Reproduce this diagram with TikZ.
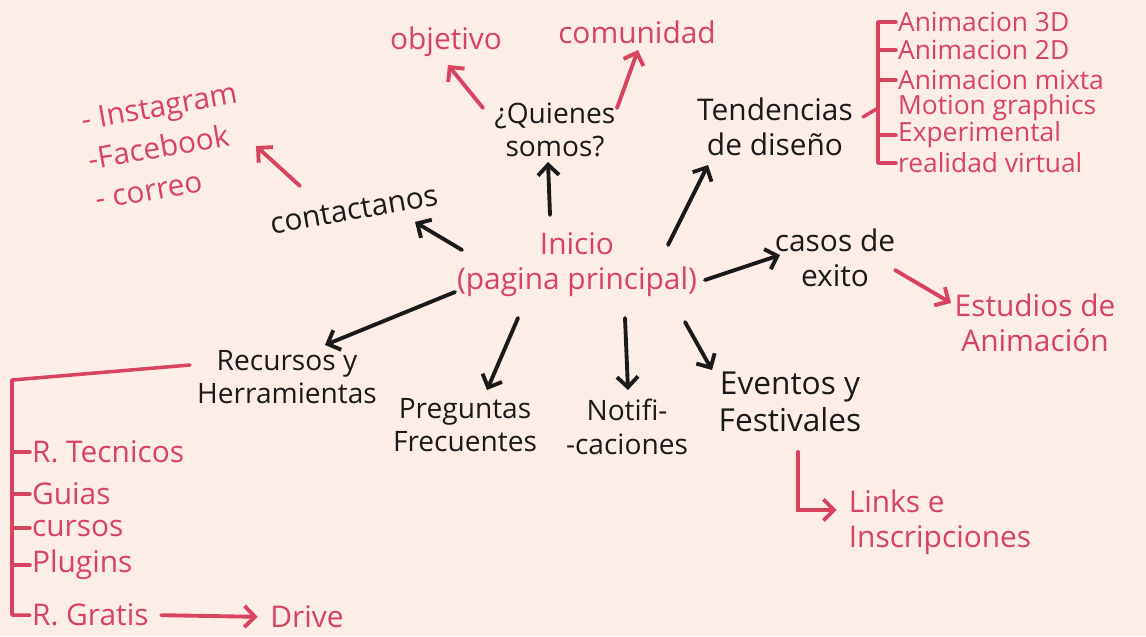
\documentclass[tikz,border=0pt]{standalone}
\usepackage{fontspec}
\setmainfont{Open Sans}
\usetikzlibrary{arrows.meta}
\definecolor{fondo}{HTML}{FDEDE7}
\definecolor{rojo}{HTML}{D8435F}
\definecolor{tinta}{HTML}{1A1A1A}

\tikzset{
  negro/.style={text=tinta, font=\fontsize{16}{19}\selectfont, align=center, inner sep=1pt},
  grande/.style={font=\fontsize{17}{20}\selectfont},
  rosa/.style={negro, text=rojo, grande},
  item/.style={rosa, anchor=west},
  lista/.style={item, font=\fontsize{15}{17}\selectfont},
  flecha/.style={draw=tinta, line width=2.2pt, line cap=round, -{Straight Barb[length=6pt,width=12pt]}},
  flecharosa/.style={flecha, draw=rojo},
  rama/.style={draw=rojo, line width=2pt, line cap=round, line join=round}
}

\begin{document}
\begin{tikzpicture}[x=0.02cm, y=-0.02cm]
  \fill[fondo] (0,0) rectangle (1146,636);
  \useasboundingbox (0,0) rectangle (1146,636);

  % centro
  \node[rosa](ini) at (577,265) {Inicio\\(pagina principal)};

  % arriba
  \node[negro](quien) at (555,130) {¿Quienes\\somos?};
  \node[rosa](obj) at (446,42) {objetivo};
  \node[rosa](com) at (637,32) {comunidad};
  \node[negro, grande](tend) at (775,127) {Tendencias\\de diseño};
  \node[lista](a1) at (896,22) {Animacion 3D};
  \node[lista](a2) at (896,50) {Animacion 2D};
  \node[lista](a3) at (896,80) {Animacion mixta};
  \node[lista](a4) at (896,108) {Motion graphics};
  \node[lista](a5) at (896,135) {Experimental};
  \node[lista](a6) at (896,163) {realidad virtual};
  \node[negro, grande, rotate=10](cont) at (354,210) {contactanos};
  \node[rosa, font=\fontsize{17}{23}\selectfont, align=left, rotate=10](redes) at (166,146) {- Instagram\\-Facebook\\- correo};

  % derecha
  \node[negro, grande](casos) at (835,258) {casos de\\exito};
  \node[rosa](estud) at (1035,323) {Estudios de\\Animación};

  % abajo
  \node[negro](recu) at (287,377) {Recursos y\\Herramientas};
  \node[negro](preg) at (465,425) {Preguntas\\Frecuentes};
  \node[negro](noti) at (627,427) {Notifi-\\-caciones};
  \node[negro, font=\fontsize{18}{21}\selectfont](even) at (790,402) {Eventos y\\Festivales};
  \node[rosa, align=left](links) at (940,522) {Links e\\Inscripciones};
  \node[item](r1) at (30,452) {R. Tecnicos};
  \node[item](r2) at (30,494) {Guias};
  \node[item](r3) at (30,528) {cursos};
  \node[item](r4) at (30,565) {Plugins};
  \node[item](r5) at (30,615) {R. Gratis};
  \node[rosa](drive) at (307,617) {Drive};

  % flechas desde el inicio
  \draw[flecha] ([shift={(-27,-50)}]ini.center) -- ([shift={(-7,32)}]quien.center);
  \draw[flecha] ([shift={(-115,-15)}]ini.center) -- ([shift={(61,12)}]cont.center);
  \draw[flecha] ([shift={(91,-20)}]ini.center) -- ([shift={(-67,38)}]tend.center);
  \draw[flecha] ([shift={(128,15)}]ini.center) -- ([shift={(-55,-3)}]casos.center);
  \draw[flecha] ([shift={(-122,27)}]ini.center) -- ([shift={(38,-32)}]recu.center);
  \draw[flecha] ([shift={(-59,53)}]ini.center) -- ([shift={(22,-35)}]preg.center);
  \draw[flecha] ([shift={(48,53)}]ini.center) -- ([shift={(1,-37)}]noti.center);
  \draw[flecha] ([shift={(108,57)}]ini.center) -- ([shift={(-78,-32)}]even.center);

  % flechas rosas
  \draw[flecharosa] ([shift={(-72,-22)}]quien.center) -- ([shift={(2,23)}]obj.center);
  \draw[flecharosa] ([shift={(62,-22)}]quien.center) -- ([shift={(1,18)}]com.center);
  \draw[flecharosa] ([shift={(-54,-24)}]cont.center) -- ([shift={(90,0)}]redes.center);
  \draw[flecharosa] ([shift={(60,12)}]casos.center) -- ([shift={(-84,-20)}]estud.center);
  \draw[flecharosa] ([shift={(8,50)}]even.center) |- ([shift={(-10,-12)}]links.west);
  \draw[flecharosa, shorten <=6pt, shorten >=6pt] (r5.east) -- (drive.west);

  % llaves
  \draw[rama] ([shift={(88,-10)}]tend.center) -- ([shift={(-18,0)}]a4.west);
  \draw[rama] (a1.west) -- ++(-18,0) |- (a6.west);
  \draw[rama] (a2.west) -- ++(-18,0);
  \draw[rama] (a3.west) -- ++(-18,0);
  \draw[rama] (a5.west) -- ++(-18,0);
  \draw[rama] ([shift={(-97,-12)}]recu.center) -- ([shift={(-18,-72)}]r1.west) |- (r5.west);
  \draw[rama] (r1.west) -- ++(-18,0);
  \draw[rama] (r2.west) -- ++(-18,0);
  \draw[rama] (r3.west) -- ++(-18,0);
  \draw[rama] (r4.west) -- ++(-18,0);
\end{tikzpicture}
\end{document}
